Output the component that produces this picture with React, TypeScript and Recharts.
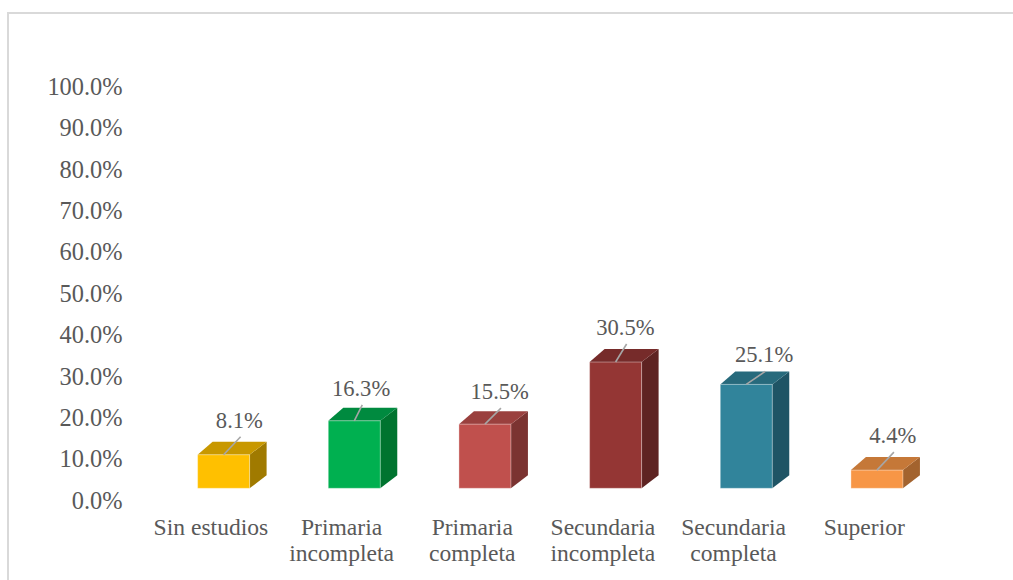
import React from 'react';
import { BarChart, Bar, XAxis, YAxis, LabelList } from 'recharts';

// ---- data ----
const categories = [
  'Sin estudios',
  'Primaria incompleta',
  'Primaria completa',
  'Secundaria incompleta',
  'Secundaria completa',
  'Superior',
];
const xTickLines = [
  ['Sin estudios'],
  ['Primaria', 'incompleta'],
  ['Primaria', 'completa'],
  ['Secundaria', 'incompleta'],
  ['Secundaria', 'completa'],
  ['Superior'],
];
const percentages = [8.1, 16.3, 15.5, 30.5, 25.1, 4.4];
const yTicks = [0, 10, 20, 30, 40, 50, 60, 70, 80, 90, 100];

// ---- styles ----
const frontColors = ['#FFC000', '#00B050', '#C0504D', '#943634', '#31849B', '#F79646'];
const topColors = ['#C89800', '#008A3F', '#9A403E', '#762B2A', '#276A7C', '#C57838'];
const sideColors = ['#A07A00', '#00742F', '#7B3331', '#5E2322', '#1F5465', '#A3632E'];
// leader-line end offsets (dx, dy) from the front-top centre of each bar
const labelNudges: [number, number][] = [
  [17, -18],
  [8, -16],
  [16, -16],
  [11, -18],
  [19, -13],
  [17, -18],
];

const data = categories.map((c, i) => ({ name: c, value: percentages[i] }));

const FONT = '"Liberation Serif", "Times New Roman", serif';
const TEXT = '#595959';
const BAR_SHIFT = 13;
const DX1 = 15;
const DX2 = 17;
const DY = 13;

const Bar3D = (props: any) => {
  const { x, y, width, height, index } = props;
  const fx = x + BAR_SHIFT;
  const w = width;
  const top = y;
  const bottom = y + height;
  return (
    <g>
      <polygon
        points={`${fx + w},${top} ${fx + w + DX2},${top - DY} ${fx + w + DX2},${bottom - DY} ${fx + w},${bottom}`}
        fill={sideColors[index]}
      />
      <polygon
        points={`${fx},${top} ${fx + w},${top} ${fx + w + DX2},${top - DY} ${fx + DX1},${top - DY}`}
        fill={topColors[index]}
      />
      <rect x={fx} y={top} width={w} height={height} fill={frontColors[index]} stroke="rgba(255,255,255,0.35)" strokeWidth={1} />
    </g>
  );
};

const DataLabel = (props: any) => {
  const { x, y, width, value, index } = props;
  const cx = x + width / 2 + BAR_SHIFT;
  const [ndx, ndy] = labelNudges[index] || [15, -17];
  const ex = cx + ndx;
  const ey = y + ndy;
  return (
    <g>
      <line x1={cx} y1={y} x2={ex} y2={ey} stroke="#A6A6A6" strokeWidth={1.6} />
      <text x={ex - 1.2} y={ey - 9} textAnchor="middle" fontFamily={FONT} fontSize={22.6} fill={TEXT}>
        {`${Number(value).toFixed(1)}%`}
      </text>
    </g>
  );
};

const XTick = (props: any) => {
  const { x, y, index } = props;
  const lines = xTickLines[index] || [];
  return (
    <g>
      {lines.map((l, i) => (
        <text key={i} x={x} y={y + 46.7 + i * 26} textAnchor="middle" fontFamily={FONT} fontSize={23.6} fill={TEXT}>
          {l}
        </text>
      ))}
    </g>
  );
};

const YTick = (props: any) => {
  const { x, y, payload } = props;
  return (
    <text x={x} y={y + 20.5} textAnchor="end" fontFamily={FONT} fontSize={24.4} fill={TEXT}>
      {`${Number(payload.value).toFixed(1)}%`}
    </text>
  );
};

export default function App() {
  return (
    <div style={{ position: 'absolute', left: 0, top: 0, width: 1013, height: 580, overflow: 'hidden', background: '#fff' }}>
      <div
        style={{
          position: 'absolute',
          left: 7,
          top: 12,
          width: 1004,
          height: 566,
          borderLeft: '2px solid #D9D9D9',
          borderTop: '2px solid #D9D9D9',
        }}
      />
      <div style={{ position: 'absolute', left: 0, top: 0 }}>
        <BarChart
          width={1013}
          height={580}
          data={data}
          margin={{ top: 74.3, right: 83.4, bottom: 31.7, left: 0 }}
        >
          <XAxis
            dataKey="name"
            axisLine={false}
            tickLine={false}
            tickSize={0}
            tickMargin={0}
            height={60}
            interval={0}
            tick={<XTick />}
          />
          <YAxis
            type="number"
            domain={[0, 100]}
            ticks={yTicks}
            interval={0}
            axisLine={false}
            tickLine={false}
            tickSize={0}
            tickMargin={23}
            width={145.6}
            tick={<YTick />}
          />
          <Bar dataKey="value" barSize={52} shape={<Bar3D />} isAnimationActive={false}>
            <LabelList dataKey="value" content={<DataLabel />} />
          </Bar>
        </BarChart>
      </div>
    </div>
  );
}
